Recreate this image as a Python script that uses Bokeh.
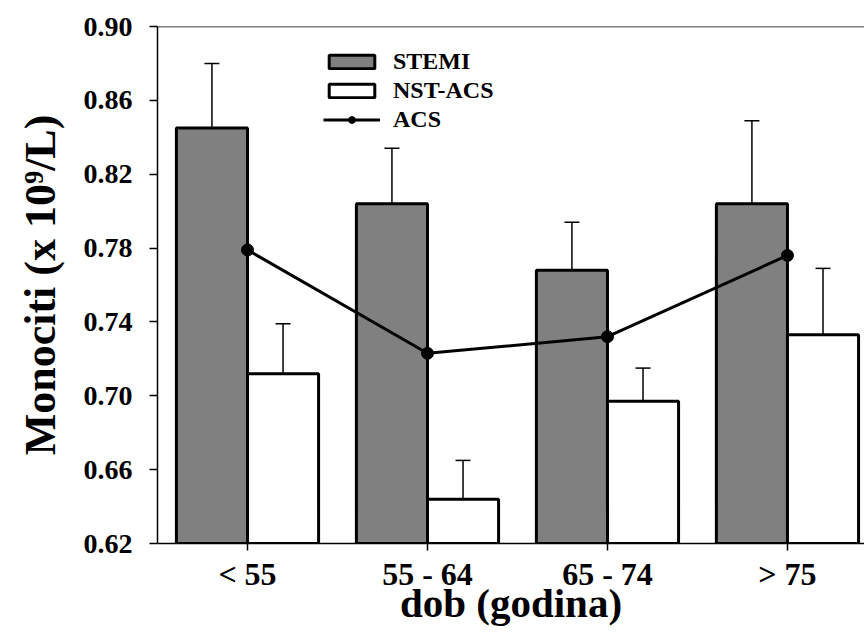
from bokeh.plotting import figure
from bokeh.models import (ColumnDataSource, FixedTicker, PrintfTickFormatter,
                          Whisker, Span, Legend, LegendItem, Range1d)
from bokeh.embed import file_html
from bokeh.resources import INLINE

# ---- data ----
categories = ["< 55", "55 - 64", "65 - 74", "> 75"]
stemi = [0.845, 0.804, 0.768, 0.804]
stemi_err_top = [0.880, 0.834, 0.794, 0.849]
nst = [0.712, 0.644, 0.697, 0.733]
nst_err_top = [0.739, 0.665, 0.715, 0.769]
acs = [0.779, 0.723, 0.732, 0.776]
y_ticks = [0.62, 0.66, 0.70, 0.74, 0.78, 0.82, 0.86, 0.90]

BAR_W = 0.395
centers = [i + 0.5 for i in range(len(categories))]

src_stemi = ColumnDataSource(dict(
    x=[c - BAR_W / 2 for c in centers], top=stemi, up=stemi_err_top))
src_nst = ColumnDataSource(dict(
    x=[c + BAR_W / 2 for c in centers], top=nst, up=nst_err_top))
src_acs = ColumnDataSource(dict(x=centers, y=acs))

FONT = "Liberation Serif"

p = figure(width=864, height=634, output_backend="svg", toolbar_location=None,
           x_range=Range1d(0, 3.928), y_range=Range1d(0.62, 0.90))
p.min_border_left = 157
p.min_border_top = 26
p.min_border_right = 0
p.min_border_bottom = 91
p.outline_line_color = None
p.xgrid.visible = False
p.ygrid.visible = False
p.background_fill_color = "white"
p.border_fill_color = "white"

r_stemi = p.vbar(x="x", top="top", bottom=0.62, width=BAR_W, source=src_stemi,
                 fill_color="#808080", line_color="black", line_width=3)
r_nst = p.vbar(x="x", top="top", bottom=0.62, width=BAR_W, source=src_nst,
               fill_color="white", line_color="black", line_width=3)

for src in (src_stemi, src_nst):
    w = Whisker(base="x", lower="top", upper="up", source=src,
                line_color="black", line_width=1.5, lower_head=None)
    w.upper_head.size = 15
    w.upper_head.line_width = 1.5
    w.upper_head.line_color = "black"
    p.add_layout(w)

r_line = p.line(x="x", y="y", source=src_acs, line_color="black", line_width=3)
r_dot = p.scatter(x="x", y="y", source=src_acs, size=12, marker="circle",
                  fill_color="black", line_color="black")

p.add_layout(Span(location=0.90, dimension="width", line_color="black",
                  line_width=1.5))

# axes
yax = p.yaxis[0]
yax.ticker = FixedTicker(ticks=y_ticks)
yax.formatter = PrintfTickFormatter(format="%.2f")
yax.minor_tick_line_color = None
yax.major_tick_in = 0
yax.major_tick_out = 8
yax.major_label_standoff = 17
yax.axis_label = "Monociti (x 10\u2079/L)"
yax.axis_label_standoff = 16
yax.major_label_text_font_size = "28px"
yax.axis_label_text_font_size = "44px"

xax = p.xaxis[0]
xax.ticker = FixedTicker(ticks=centers)
xax.major_label_overrides = {c: lab for c, lab in zip(centers, categories)}
xax.minor_tick_line_color = None
xax.major_tick_in = 0
xax.major_tick_out = 7
xax.major_label_standoff = 5
xax.axis_label = "dob (godina)"
xax.axis_label_standoff = -15
xax.major_label_text_font_size = "32px"
xax.axis_label_text_font_size = "41px"

for ax in (xax, yax):
    ax.axis_line_color = "black"
    ax.axis_line_width = 1.5
    ax.major_tick_line_color = "black"
    ax.major_tick_line_width = 1.5
    ax.major_label_text_font = FONT
    ax.major_label_text_font_style = "bold"
    ax.major_label_text_color = "black"
    ax.axis_label_text_font = FONT
    ax.axis_label_text_font_style = "bold"
    ax.axis_label_text_color = "black"

legend = Legend(items=[
    LegendItem(label="STEMI", renderers=[r_stemi]),
    LegendItem(label="NST-ACS", renderers=[r_nst]),
    LegendItem(label="ACS", renderers=[r_line, r_dot]),
], location=(166, 410))
legend.glyph_width = 57
legend.glyph_height = 17
legend.label_height = 17
legend.spacing = 2
legend.padding = 0
legend.margin = 0
legend.label_standoff = 13
legend.border_line_color = None
legend.background_fill_alpha = 0
legend.label_text_font = FONT
legend.label_text_font_style = "bold"
legend.label_text_font_size = "24px"
legend.label_text_color = "black"
p.add_layout(legend, "center")

open("out.html", "w").write(file_html(p, INLINE))
